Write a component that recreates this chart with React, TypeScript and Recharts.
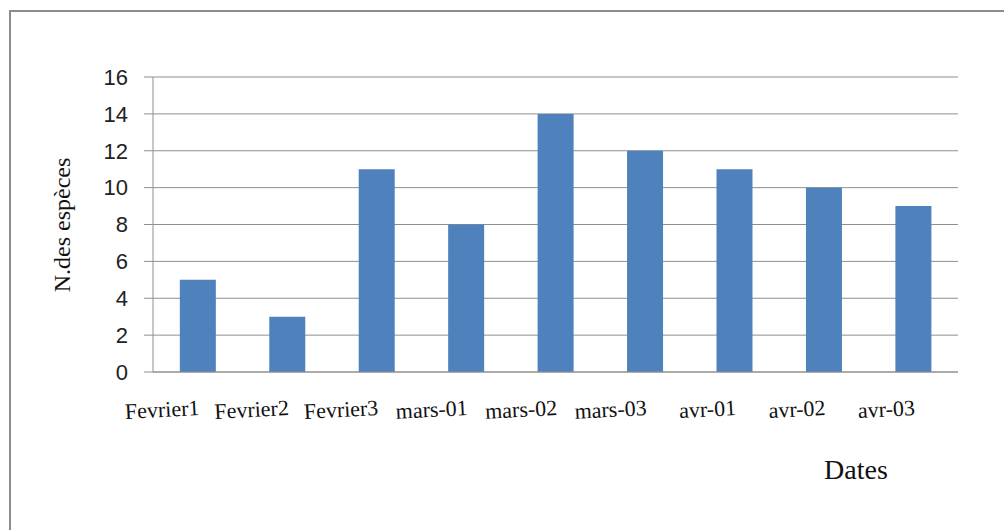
import { BarChart, Bar, XAxis, YAxis, CartesianGrid, Label } from "recharts";

const dates = ["Fevrier1", "Fevrier2", "Fevrier3", "mars-01", "mars-02", "mars-03", "avr-01", "avr-02", "avr-03"];
const especes = [5, 3, 11, 8, 14, 12, 11, 10, 9];
const yTicks = [0, 2, 4, 6, 8, 10, 12, 14, 16];

const data = dates.map((d, i) => ({ date: d, n: especes[i] }));

const serif = "'Liberation Serif', 'Times New Roman', serif";
const sans = "'Liberation Sans', Arial, sans-serif";

const DateTick = (props: any) => {
  const { x, y, payload } = props;
  const tx = x + 2;
  const ty = y + 43;
  return (
    <text x={tx} y={ty} textAnchor="end" fontFamily={serif} fontSize={22} fill="#111"
      transform={`rotate(-3 ${tx} ${ty})`}>
      {payload.value}
    </text>
  );
};

export default function App() {
  return (
    <div style={{ position: "fixed", left: 0, top: 0, width: 1004, height: 530, overflow: "hidden", background: "#fff" }}>
      <div style={{ position: "absolute", left: 9, top: 10, width: 1100, height: 600, border: "2px solid #8c8c8c" }} />
      <div style={{ position: "absolute", left: 0, top: 0 }}>
        <BarChart width={1004} height={530} data={data} barCategoryGap="30%"
          margin={{ top: 77, right: 46, bottom: 0, left: 0 }}>
          <CartesianGrid vertical={false} stroke="#8f8f8f" />
          <XAxis dataKey="date" tickLine={false} tickSize={0} tickMargin={0} stroke="#8f8f8f"
            tick={<DateTick />} interval={0} height={158}>
            <Label content={() => (
              <text x={856} y={479} textAnchor="middle" fontFamily={serif} fontSize={28} fill="#111">Dates</text>
            )} />
          </XAxis>
          <YAxis width={153} domain={[0, 16]} ticks={yTicks} interval={0} tickSize={9} tickMargin={16} stroke="#8f8f8f"
            tick={{ fontFamily: sans, fontSize: 22, fill: "#222" }}>
            <Label content={() => (
              <text x={0} y={0} transform="translate(70 225) rotate(-90)" textAnchor="middle"
                fontFamily={serif} fontSize={24} fill="#111">N.des espèces</text>
            )} />
          </YAxis>
          <Bar dataKey="n" fill="#4f81bd" isAnimationActive={false} />
        </BarChart>
      </div>
    </div>
  );
}
